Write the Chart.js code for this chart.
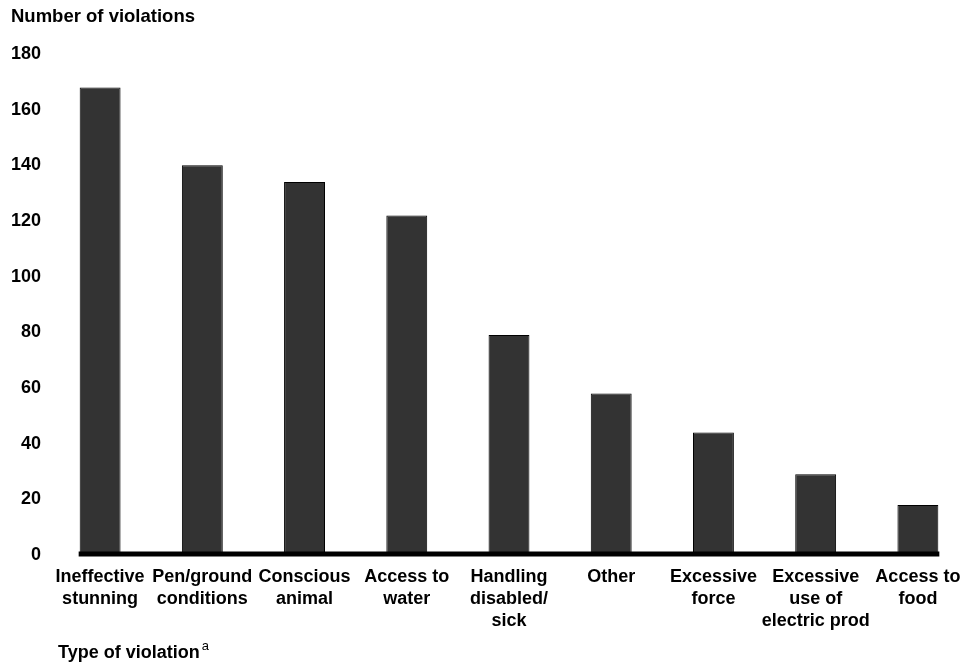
<!DOCTYPE html>
<html>
<head>
<meta charset="utf-8">
<title>Number of violations by type</title>
<script src="https://cdn.jsdelivr.net/npm/chart.js@4.4.1/dist/chart.umd.min.js"></script>
<style>
  html, body { margin: 0; padding: 0; background: #fff; }
  #wrap { width: 978px; height: 665px; }
</style>
</head>
<body>
<div id="wrap"><canvas id="myChart"></canvas></div>
<script>
// categories (multi-line labels) and counts
const categories = [
  ['Ineffective', 'stunning'],
  ['Pen/ground', 'conditions'],
  ['Conscious', 'animal'],
  ['Access to', 'water'],
  ['Handling', 'disabled/', 'sick'],
  'Other',
  ['Excessive', 'force'],
  ['Excessive', 'use of', 'electric prod'],
  ['Access to', 'food'],
]
const violations = [168, 140, 134, 122, 79, 58, 44, 29, 18]

const yMin = 0
const yMax = 180
const yStep = 20

const chartTitle = 'Number of violations'
const xTitleText = 'Type of violation'
const xTitleNote = 'a'

const FONT = '"Liberation Sans", Arial, Helvetica, sans-serif'
Chart.defaults.color = '#000'
Chart.defaults.font.family = FONT

/**
 * Thick black baseline drawn under the bars, from first bar edge to last bar edge.
 */
const baseline = {
  id: 'baseline',
  afterDatasetsDraw(chart) {
    const bars = chart.getDatasetMeta(0).data
    const first = bars[0]
    const last = bars[bars.length - 1]
    const y = chart.scales.y.getPixelForValue(0) - 1
    const ctx = chart.ctx
    ctx.save()
    ctx.strokeStyle = '#000'
    ctx.lineWidth = 5
    ctx.beginPath()
    ctx.moveTo(first.x - first.width / 2 - 1, y)
    ctx.lineTo(last.x + last.width / 2 + 1, y)
    ctx.stroke()
    ctx.restore()
  },
}

/**
 * X axis title with a superscript footnote mark.
 */
const xTitle = {
  id: 'xTitle',
  afterDraw(chart) {
    const ctx = chart.ctx
    const x = chart.scales.x.left + 9
    const y = chart.scales.x.bottom + 26
    ctx.save()
    ctx.fillStyle = '#000'
    ctx.textBaseline = 'alphabetic'
    ctx.font = 'bold 18px ' + FONT
    ctx.fillText(xTitleText, x, y)
    const w = ctx.measureText(xTitleText).width
    ctx.font = '13px ' + FONT
    ctx.fillText(xTitleNote, x + w + 2, y - 8)
    ctx.restore()
  },
}

const data = {
  labels: categories,
  datasets: [
    {
      data: violations,
      backgroundColor: '#333333',
      borderColor: '#000',
      borderWidth: 1,
      borderSkipped: false,
      barPercentage: 0.4,
      categoryPercentage: 1,
    },
  ],
}

const options = {
  responsive: true,
  maintainAspectRatio: false,
  animation: false,
  layout: {
    padding: { left: 11, right: 9, top: 0, bottom: 33 },
  },
  plugins: {
    legend: { display: false },
    tooltip: { enabled: false },
    title: {
      display: true,
      text: chartTitle,
      align: 'start',
      color: '#000',
      font: { size: 18.5, weight: 'bold', lineHeight: 22 / 18.5 },
      padding: { top: 6, bottom: 26 },
    },
  },
  scales: {
    x: {
      offset: true,
      grid: { display: false, drawTicks: false },
      border: { display: false },
      ticks: {
        autoSkip: false,
        maxRotation: 0,
        minRotation: 0,
        padding: 11,
        color: '#000',
        font: { size: 18, weight: 'bold', lineHeight: 22 / 18 },
      },
      afterFit(scale) {
        scale.height = 77
      },
    },
    y: {
      min: yMin,
      max: yMax,
      grid: { display: false, drawTicks: false },
      border: { display: false },
      ticks: {
        stepSize: yStep,
        padding: 8,
        color: '#000',
        font: { size: 18, weight: 'bold' },
      },
      afterFit(scale) {
        scale.width = 38
      },
    },
  },
}

new Chart(document.querySelector('#myChart'), {
  type: 'bar',
  data,
  options,
  plugins: [baseline, xTitle],
})
</script>
</body>
</html>
